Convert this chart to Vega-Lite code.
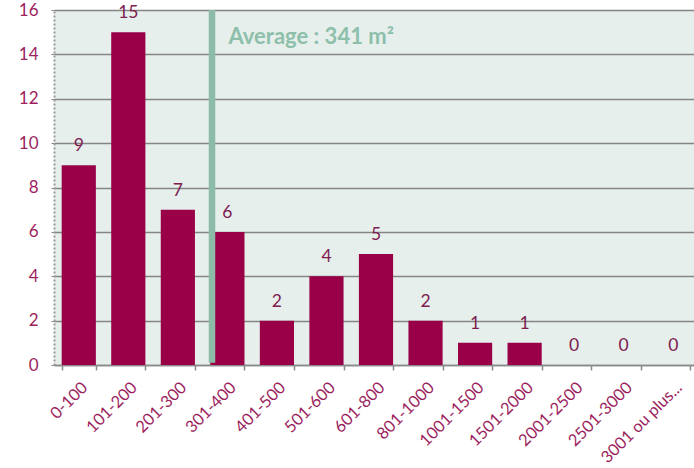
{
  "$schema": "https://vega.github.io/schema/vega-lite/v6.json",
  "width": 644,
  "height": 355,
  "autosize": {"type": "none"},
  "padding": {"left": 54, "top": 10, "right": 0, "bottom": 103},
  "background": "white",
  "config": {
    "font": "Lato",
    "view": {"fill": "#e6efeb", "stroke": null}
  },
  "datasets": {
    "surfaces": [
      {"range": "0-100", "count": 9},
      {"range": "101-200", "count": 15},
      {"range": "201-300", "count": 7},
      {"range": "301-400", "count": 6},
      {"range": "401-500", "count": 2},
      {"range": "501-600", "count": 4},
      {"range": "601-800", "count": 5},
      {"range": "801-1000", "count": 2},
      {"range": "1001-1500", "count": 1},
      {"range": "1501-2000", "count": 1},
      {"range": "2001-2500", "count": 0},
      {"range": "2501-3000", "count": 0},
      {"range": "3001 ou plus...", "count": 0}
    ],
    "average": [
      {"range": "301-400", "label": "Average : 341 m²"}
    ]
  },
  "layer": [
    {
      "data": {"name": "surfaces"},
      "mark": {"type": "bar", "color": "#990047"},
      "encoding": {
        "x": {
          "field": "range",
          "type": "nominal",
          "sort": null,
          "scale": {"paddingInner": 0.31, "paddingOuter": 0.155},
          "axis": {
            "title": null,
            "labelAngle": -45,
            "labelFontSize": 16.5,
            "labelColor": "#9c1f5e",
            "labelPadding": 9,
            "labelDx": -4,
            "labelDy": 1,
            "tickBand": "extent",
            "tickColor": "#8a8a8a",
            "tickSize": 5,
            "tickWidth": 1.5,
            "domainColor": "#8a8a8a",
            "domainWidth": 1.5,
            "grid": false
          }
        },
        "y": {
          "field": "count",
          "type": "quantitative",
          "scale": {"domain": [0, 16], "nice": false},
          "axis": {
            "title": null,
            "values": [0, 2, 4, 6, 8, 10, 12, 14, 16],
            "labelFontSize": 17,
            "labelColor": "#9c1f5e",
            "labelPadding": 13,
            "grid": true,
            "gridColor": "#858585",
            "gridWidth": 1.5,
            "tickColor": "#858585",
            "tickSize": 3,
            "domainColor": "#9a9a9a",
            "domainDash": [2, 2],
            "domainWidth": 2
          }
        }
      }
    },
    {
      "data": {"name": "surfaces"},
      "mark": {"type": "text", "fontSize": 17.5, "color": "#7d2050", "baseline": "middle", "dy": -19},
      "encoding": {
        "x": {"field": "range", "type": "nominal", "sort": null},
        "y": {"field": "count", "type": "quantitative"},
        "text": {"field": "count", "type": "quantitative"}
      }
    },
    {
      "data": {"name": "average"},
      "mark": {"type": "rule", "color": "#8cbba8", "strokeWidth": 6.5},
      "encoding": {
        "x": {"field": "range", "type": "nominal", "sort": null, "bandPosition": 0.05},
        "y": {"datum": 16},
        "y2": {"datum": 0.1}
      }
    },
    {
      "data": {"name": "average"},
      "mark": {"type": "text", "fontSize": 22, "fontWeight": "bold", "color": "#8dbfab", "align": "left", "baseline": "middle", "dx": 16.5},
      "encoding": {
        "x": {"field": "range", "type": "nominal", "sort": null, "bandPosition": 0.05},
        "y": {"datum": 14.8},
        "text": {"field": "label"}
      }
    }
  ]
}
